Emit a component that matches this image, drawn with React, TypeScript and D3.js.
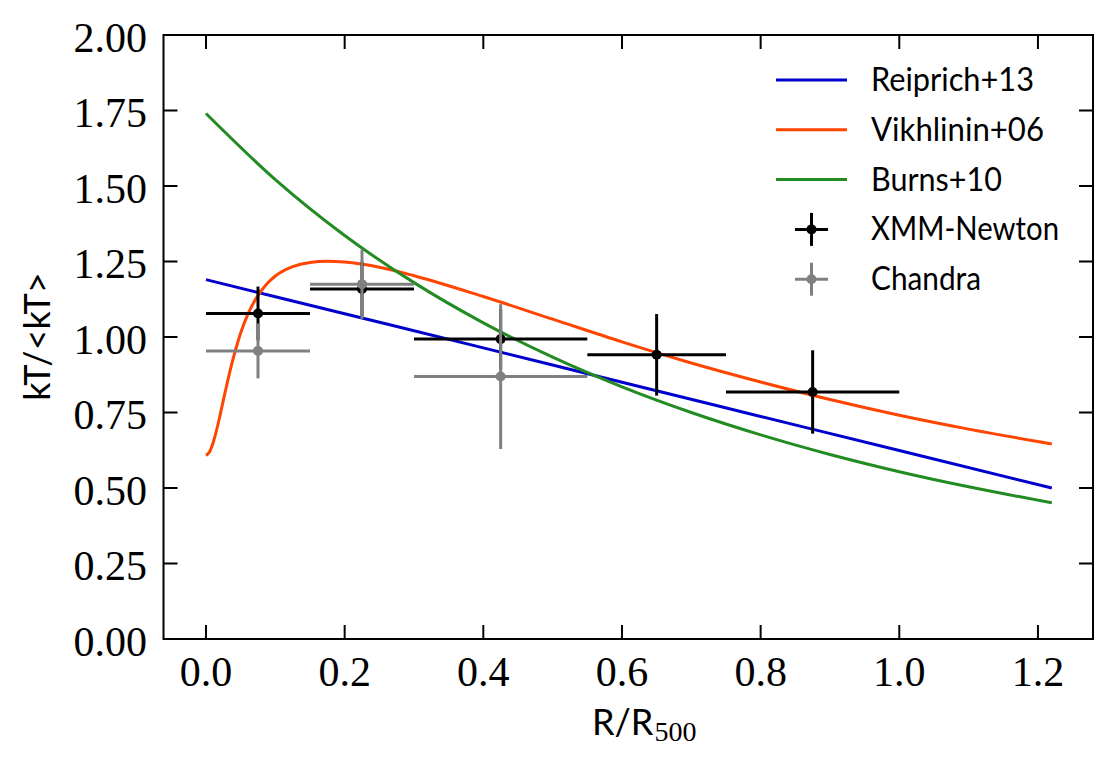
import * as d3 from 'd3';

// model curves, values
const REIPRICH_X = [0, 0.2, 0.4, 0.6, 0.8, 1.0, 1.22];
const REIPRICH_Y = [1.19, 1.077, 0.964, 0.85, 0.737, 0.624, 0.5];

const VIKH_X = [0, 0.005, 0.01, 0.015, 0.02, 0.025, 0.03, 0.035, 0.04, 0.045, 0.05, 0.06, 0.07, 0.08, 0.09, 0.1, 0.125, 0.15, 0.175, 0.2, 0.25, 0.3, 0.4, 0.5, 0.6, 0.7, 0.8, 0.9, 1.0, 1.1, 1.22];
const VIKH_Y = [0.608, 0.619, 0.648, 0.689, 0.738, 0.791, 0.842, 0.891, 0.936, 0.976, 1.013, 1.073, 1.119, 1.154, 1.181, 1.202, 1.233, 1.247, 1.251, 1.248, 1.231, 1.203, 1.134, 1.059, 0.984, 0.914, 0.851, 0.793, 0.741, 0.695, 0.646];

const BURNS_X = [0, 0.1, 0.2, 0.3, 0.4, 0.5, 0.6, 0.7, 0.8, 0.9, 1.0, 1.1, 1.22];
const BURNS_Y = [1.74, 1.521, 1.336, 1.18, 1.047, 0.933, 0.835, 0.75, 0.676, 0.611, 0.554, 0.504, 0.451];

// binned measurements
const XMM_X = [0.075, 0.225, 0.425, 0.65, 0.875];
const XMM_XERR = [0.075, 0.075, 0.125, 0.1, 0.125];
const XMM_Y = [1.078, 1.159, 0.993, 0.941, 0.818];
const XMM_YERR = [0.089, 0.09, 0.1, 0.135, 0.138];

const CHANDRA_X = [0.075, 0.225, 0.425];
const CHANDRA_XERR = [0.075, 0.075, 0.125];
const CHANDRA_Y = [0.954, 1.175, 0.869];
const CHANDRA_YERR = [0.091, 0.115, 0.24];

const X_TICKS = [0, 0.2, 0.4, 0.6, 0.8, 1.0, 1.2];
const Y_TICKS = [0, 0.25, 0.5, 0.75, 1.0, 1.25, 1.5, 1.75, 2.0];

const CURVES = [
  { name: 'Reiprich+13', xs: REIPRICH_X, ys: REIPRICH_Y, color: '#0000cd', w: 163 },
  { name: 'Vikhlinin+06', xs: VIKH_X, ys: VIKH_Y, color: '#ff4500', w: 173 },
  { name: 'Burns+10', xs: BURNS_X, ys: BURNS_Y, color: '#228b22', w: 131 },
];

const POINTS = [
  { name: 'XMM-Newton', xs: XMM_X, xerr: XMM_XERR, ys: XMM_Y, yerr: XMM_YERR, color: '#000000', w: 188 },
  { name: 'Chandra', xs: CHANDRA_X, xerr: CHANDRA_XERR, ys: CHANDRA_Y, yerr: CHANDRA_YERR, color: '#808080', w: 110 },
];

const SERIF = '"Liberation Serif", "DejaVu Serif", serif';
const SANS = 'Lato, "Liberation Sans", "DejaVu Sans", sans-serif';

export default function App() {
  const W = 1114, H = 768;
  const left = 163.5, right = 1093, top = 35, bottom = 639;

  const x = d3.scaleLinear().domain([-0.0613, 1.2794]).range([left, right]);
  const y = d3.scaleLinear().domain([0, 2]).range([bottom, top]);

  const line = (xs: number[], ys: number[]) =>
    d3.line<number>().x((_, i) => x(xs[i])).y((_, i) => y(ys[i])).curve(d3.curveMonotoneX)(xs) ?? '';

  const tickLen = 14;
  const legX0 = 776, legX1 = 847, legText = 871;
  const legY = (i: number) => 80 + i * 49.8;

  return (
    <svg width={W} height={H} style={{ position: 'absolute', left: 0, top: 0, background: '#fff' }}>
      <defs>
        <clipPath id="plot">
          <rect x={left} y={top} width={right - left} height={bottom - top} />
        </clipPath>
      </defs>

      <g clipPath="url(#plot)">
        {CURVES.map((c) => (
          <path key={c.name} d={line(c.xs, c.ys)} fill="none" stroke={c.color} strokeWidth={3} />
        ))}
        {POINTS.map((p) => (
          <g key={p.name}>
            {p.xs.map((xv, i) => (
              <g key={i}>
                <line x1={x(xv - p.xerr[i])} x2={x(xv + p.xerr[i])} y1={y(p.ys[i])} y2={y(p.ys[i])} stroke={p.color} strokeWidth={3} />
                <line x1={x(xv)} x2={x(xv)} y1={y(p.ys[i] - p.yerr[i])} y2={y(p.ys[i] + p.yerr[i])} stroke={p.color} strokeWidth={3} />
                <circle cx={x(xv)} cy={y(p.ys[i])} r={5} fill={p.color} />
              </g>
            ))}
          </g>
        ))}
      </g>

      {/* frame */}
      <rect x={left} y={top} width={right - left} height={bottom - top} fill="none" stroke="#000" strokeWidth={2} />

      {/* x ticks */}
      {X_TICKS.map((t) => (
        <g key={t}>
          <line x1={x(t)} x2={x(t)} y1={bottom} y2={bottom - tickLen} stroke="#000" strokeWidth={2} />
          <line x1={x(t)} x2={x(t)} y1={top} y2={top + tickLen} stroke="#000" strokeWidth={2} />
          <text x={x(t)} y={686} textAnchor="middle" fontFamily={SERIF} fontSize={42} fill="#000">
            {t.toFixed(1)}
          </text>
        </g>
      ))}

      {/* y ticks */}
      {Y_TICKS.map((t) => (
        <g key={t}>
          <line x1={left} x2={left + tickLen} y1={y(t)} y2={y(t)} stroke="#000" strokeWidth={2} />
          <line x1={right} x2={right - tickLen} y1={y(t)} y2={y(t)} stroke="#000" strokeWidth={2} />
          <text x={147} y={y(t) + 16.5} textAnchor="end" fontFamily={SERIF} fontSize={42} fill="#000">
            {t.toFixed(2)}
          </text>
        </g>
      ))}

      {/* axis labels */}
      <text x={592} y={735} fontFamily={SANS} fontSize={36} fill="#000">
        R/R<tspan fontFamily={SERIF} fontSize={28} dy={6} dx={1}>500</tspan>
      </text>
      <text
        transform={`translate(50, ${(top + bottom) / 2 - 0.5}) rotate(-90)`}
        textAnchor="middle"
        fontFamily={SANS}
        fontSize={36}
        fill="#000"
      >
        kT/&lt;kT&gt;
      </text>

      {/* legend */}
      {CURVES.map((c, i) => (
        <g key={c.name}>
          <line x1={legX0} x2={legX1} y1={legY(i)} y2={legY(i)} stroke={c.color} strokeWidth={3} />
          <text x={legText} y={legY(i) + 11} fontFamily={SANS} fontSize={32} fill="#000" textLength={c.w} lengthAdjust="spacingAndGlyphs">{c.name}</text>
        </g>
      ))}
      {POINTS.map((p, j) => {
        const i = CURVES.length + j;
        const cx = (legX0 + legX1) / 2;
        return (
          <g key={p.name}>
            <line x1={cx - 16.5} x2={cx + 16.5} y1={legY(i)} y2={legY(i)} stroke={p.color} strokeWidth={3} />
            <line x1={cx} x2={cx} y1={legY(i) - 16.5} y2={legY(i) + 16.5} stroke={p.color} strokeWidth={3} />
            <circle cx={cx} cy={legY(i)} r={5} fill={p.color} />
            <text x={legText} y={legY(i) + 11} fontFamily={SANS} fontSize={32} fill="#000" textLength={p.w} lengthAdjust="spacingAndGlyphs">{p.name}</text>
          </g>
        );
      })}
    </svg>
  );
}
